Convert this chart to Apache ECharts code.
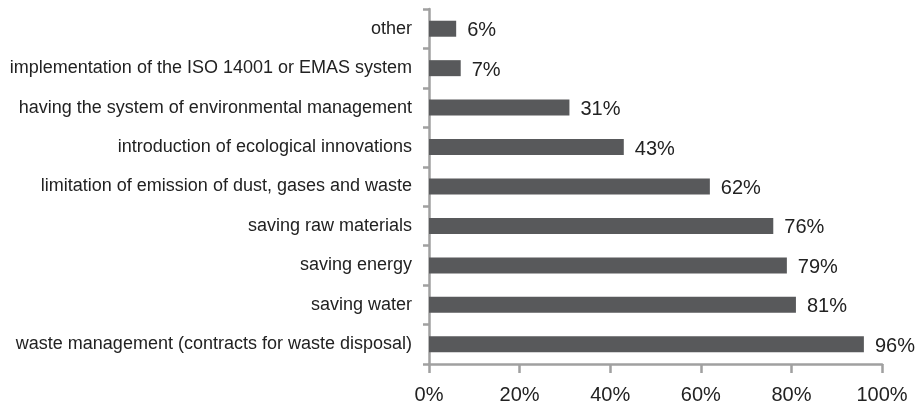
<!DOCTYPE html>
<html>
<head>
<meta charset="utf-8">
<script src="https://cdn.jsdelivr.net/npm/echarts@6/dist/echarts.min.js"></script>
<style>
html,body{margin:0;padding:0;background:#fff;}
#chart{width:918px;height:407px;}
</style>
</head>
<body>
<div id="chart"></div>
<script>
var categories = [
  "other",
  "implementation of the ISO 14001 or EMAS system",
  "having the system of environmental management",
  "introduction of ecological innovations",
  "limitation of emission of dust, gases and waste",
  "saving raw materials",
  "saving energy",
  "saving water",
  "waste management (contracts for waste disposal)"
];
var values = [6, 7, 31, 43, 62, 76, 79, 81, 96];
var xTicks = [0, 20, 40, 60, 80, 100];

var chart = echarts.init(document.getElementById('chart'), null, {renderer: 'canvas'});
var axisColor = '#a0a0a0';
var font = '"Liberation Sans", Arial, sans-serif';
chart.setOption({
  animation: false,
  grid: {left: 429, right: 36, top: 9, bottom: 43, containLabel: false},
  xAxis: {
    type: 'value',
    min: xTicks[0],
    max: xTicks[xTicks.length - 1],
    interval: xTicks[1] - xTicks[0],
    axisLine: {show: true, lineStyle: {color: axisColor, width: 2.5}},
    axisTick: {show: true, length: 9, lineStyle: {color: axisColor, width: 2.5}},
    splitLine: {show: false},
    axisLabel: {
      formatter: function (v) { return v + '%'; },
      fontFamily: font, fontSize: 20, color: '#222', margin: 21
    }
  },
  yAxis: {
    type: 'category',
    data: categories,
    inverse: true,
    axisLine: {show: true, lineStyle: {color: axisColor, width: 2.5}},
    axisTick: {show: true, length: 6, lineStyle: {color: axisColor, width: 2.5}},
    axisLabel: {fontFamily: font, fontSize: 18, color: '#222', margin: 17}
  },
  series: [{
    type: 'bar',
    data: values,
    barWidth: 16,
    itemStyle: {color: '#58595b'},
    label: {
      show: true,
      position: 'right',
      distance: 11,
      offset: [0, 2],
      formatter: '{c}%',
      fontFamily: font,
      fontSize: 20,
      color: '#222'
    }
  }]
});
</script>
</body>
</html>
